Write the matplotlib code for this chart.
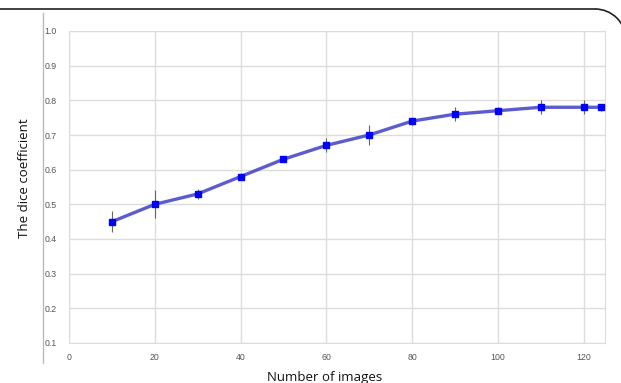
import numpy as np
import matplotlib.pyplot as plt
from matplotlib.lines import Line2D
from matplotlib.patches import Arc

# data
n_images = [10, 20, 30, 40, 50, 60, 70, 80, 90, 100, 110, 120, 124]
dice = [0.45, 0.50, 0.53, 0.58, 0.63, 0.67, 0.70, 0.74, 0.76, 0.77, 0.78, 0.78, 0.78]
dice_err = [0.03, 0.04, 0.015, 0.01, 0.008, 0.02, 0.03, 0.01, 0.02, 0.01, 0.02, 0.02, 0.01]
xticks = [0, 20, 40, 60, 80, 100, 120]
yticks = [0.1, 0.2, 0.3, 0.4, 0.5, 0.6, 0.7, 0.8, 0.9, 1.0]

fig = plt.figure(figsize=(6.21, 3.83), dpi=100)
ax = fig.add_axes([69/621, 1-343/383, (605-69)/621, (343-31)/383])

ax.errorbar(n_images, dice, yerr=dice_err, fmt='none', ecolor='#666666',
            elinewidth=0.8, zorder=2)
ax.plot(n_images, dice, color='#4a4ac8', lw=2.4, alpha=0.9, zorder=3)
ax.plot(n_images, dice, 's', color='#0000ff', ms=4.5, zorder=4, clip_on=False)

ax.set_xlim(0, 125)
ax.set_ylim(0.1, 1.0)
ax.set_xticks(xticks)
ax.set_yticks(yticks)
ax.set_xticklabels([str(t) for t in xticks])
ax.set_yticklabels(['%.1f' % t for t in yticks])
ax.grid(True, color='#dcdcdc', lw=1)
ax.set_axisbelow(True)
for s in ax.spines.values():
    s.set_color('#dcdcdc')
ax.tick_params(length=0, labelsize=6.3, labelcolor='#555555')
for lab in ax.get_xticklabels() + ax.get_yticklabels():
    lab.set_family('Liberation Sans')
ax.tick_params(axis='y', pad=9)
ax.tick_params(axis='x', pad=7)

# frame pieces around the panel
fig.add_artist(Line2D([43/621, 43/621], [1-13/383, 1-363/383], color='#bbbbbb', lw=1))
fig.add_artist(Line2D([0, 595/621], [1-9/383, 1-9/383], color='#222222', lw=1.2))
fig.add_artist(Arc((595/621, 1-40/383), 2*31/621, 2*31/383, theta1=0, theta2=90,
                   color='#222222', lw=1.2))

fig.text(25/621, 1-178/383, 'The dice coefficient', rotation=90, ha='center',
         va='center', fontsize=9.5, family='Open Sans', color='#111111')
fig.text(325/621, 1-377/383, 'Number of images', ha='center', va='center',
         fontsize=9.5, family='Open Sans', color='#111111')

fig.savefig('out.png', dpi=100)
